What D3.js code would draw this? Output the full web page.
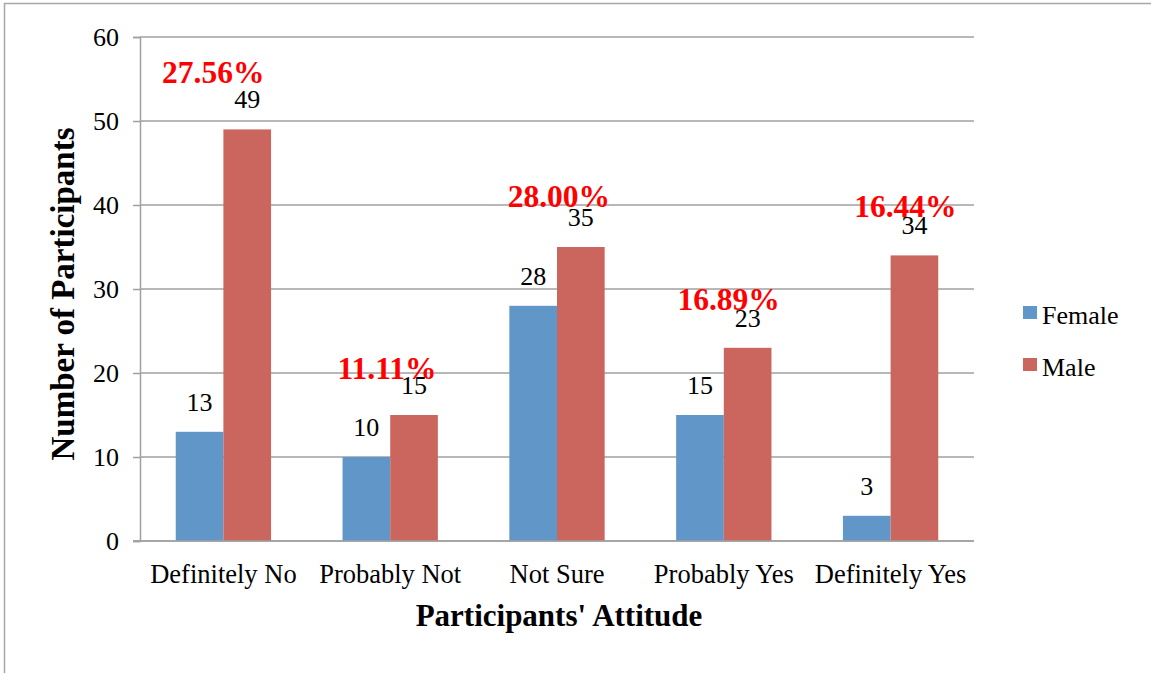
<!DOCTYPE html>
<html><head><meta charset="utf-8">
<script src="https://cdn.jsdelivr.net/npm/d3@7"></script>
<style>body{margin:0;background:#fff;}svg{display:block;} text{font-family:"Liberation Serif","Times New Roman",serif;}</style>
</head><body>
<svg id="c" width="1151" height="673"></svg>
<script>
const categories = ["Definitely No","Probably Not","Not Sure","Probably Yes","Definitely Yes"];
const seriesNames = ["Female","Male"];
const female = [13,10,28,15,3];
const male = [49,15,35,23,34];
const percentLabels = ["27.56%","11.11%","28.00%","16.89%","16.44%"];
const yTicks = [0,10,20,30,40,50,60];
// annotation placement tweaks (pixels) for the red percentage labels
const pctDx = [-34,-27,-22,-19,-9];
const pctDy = [46,36,40,38,38];

const colors = ["#6096C8","#CB665F"];
const FONT = "Liberation Serif, Times New Roman, serif";
const svg = d3.select("#c");
// outer frame
svg.append("rect").attr("x",4.5).attr("y",3.5).attr("width",1200).attr("height",700)
  .attr("fill","none").attr("stroke","#a6a6a6").attr("stroke-width",1.5);

const pLeft=140, pRight=974, pTop=37, pBottom=541;
const x = d3.scaleBand().domain(categories).range([pLeft,pRight]).paddingInner(0).paddingOuter(0);
const y = d3.scaleLinear().domain([0,60]).range([pBottom,pTop]);
const bw = x.bandwidth()/3.5;
const gap = (x.bandwidth()-2*bw)/2;

// gridlines
svg.append("g").selectAll("line").data(yTicks.filter(d=>d>0)).join("line")
  .attr("x1",pLeft).attr("x2",pRight).attr("y1",d=>y(d)).attr("y2",d=>y(d))
  .attr("stroke","#a0a0a0").attr("stroke-width",1.5);

// y axis
const yAxis = d3.axisLeft(y).tickValues(yTicks).tickSize(7).tickPadding(14).tickFormat(d3.format("d"));
const gy = svg.append("g").attr("transform",`translate(${pLeft},0)`).call(yAxis)
  .attr("font-family",FONT).attr("font-size",26);
gy.select(".domain").attr("stroke","#a0a0a0").attr("stroke-width",1.5);
gy.selectAll(".tick line").attr("stroke","#a0a0a0").attr("stroke-width",1.5);
gy.selectAll(".tick text").attr("fill","#000").attr("dy","0.34em");

// x axis
const xAxis = d3.axisBottom(x).tickSize(0).tickPadding(23);
const gx = svg.append("g").attr("transform",`translate(0,${pBottom})`).call(xAxis)
  .attr("font-family",FONT).attr("font-size",26.5);
gx.select(".domain").attr("stroke","#a0a0a0").attr("stroke-width",1.5).attr("d",`M${pLeft-7},0H${pRight}`);
gx.selectAll(".tick text").attr("fill","#000");

const series = [female, male];
series.forEach((vals,si)=>{
  svg.append("g").selectAll("rect").data(vals).join("rect")
    .attr("x",(d,i)=>x(categories[i])+gap+si*bw)
    .attr("y",d=>y(d)).attr("width",bw).attr("height",d=>pBottom-y(d))
    .attr("fill",colors[si]);
  svg.append("g").selectAll("text").data(vals).join("text")
    .attr("x",(d,i)=>x(categories[i])+gap+si*bw+bw/2)
    .attr("y",d=>y(d)-21).attr("text-anchor","middle")
    .attr("font-size",26).attr("fill","#000").text(d=>d);
});
// redraw axis line over bars
svg.append("line").attr("x1",pLeft-7).attr("x2",pRight).attr("y1",pBottom).attr("y2",pBottom)
  .attr("stroke","#a0a0a0").attr("stroke-width",1.5);

// percentage annotations
svg.append("g").selectAll("text").data(percentLabels).join("text")
  .attr("x",(d,i)=>x(categories[i])+gap+bw*1.5+pctDx[i])
  .attr("y",(d,i)=>y(male[i])-pctDy[i])
  .attr("text-anchor","middle").attr("font-size",31.5).attr("font-weight","bold")
  .attr("fill","#FF0000").text(d=>d);

// axis titles
svg.append("text").attr("x",559).attr("y",626).attr("text-anchor","middle")
  .attr("font-size",31).attr("font-weight","bold").text("Participants' Attitude");
svg.append("text").attr("transform","translate(74,294) rotate(-90)").attr("text-anchor","middle")
  .attr("font-size",33).attr("font-weight","bold").text("Number of Participants");

// legend
const lg = svg.append("g");
seriesNames.forEach((n,i)=>{
  lg.append("rect").attr("x",1023).attr("y",306+i*52).attr("width",14).attr("height",13).attr("fill",colors[i]);
  lg.append("text").attr("x",1042).attr("y",324+i*51.5).attr("font-size",26).text(n);
});
</script>
</body></html>
